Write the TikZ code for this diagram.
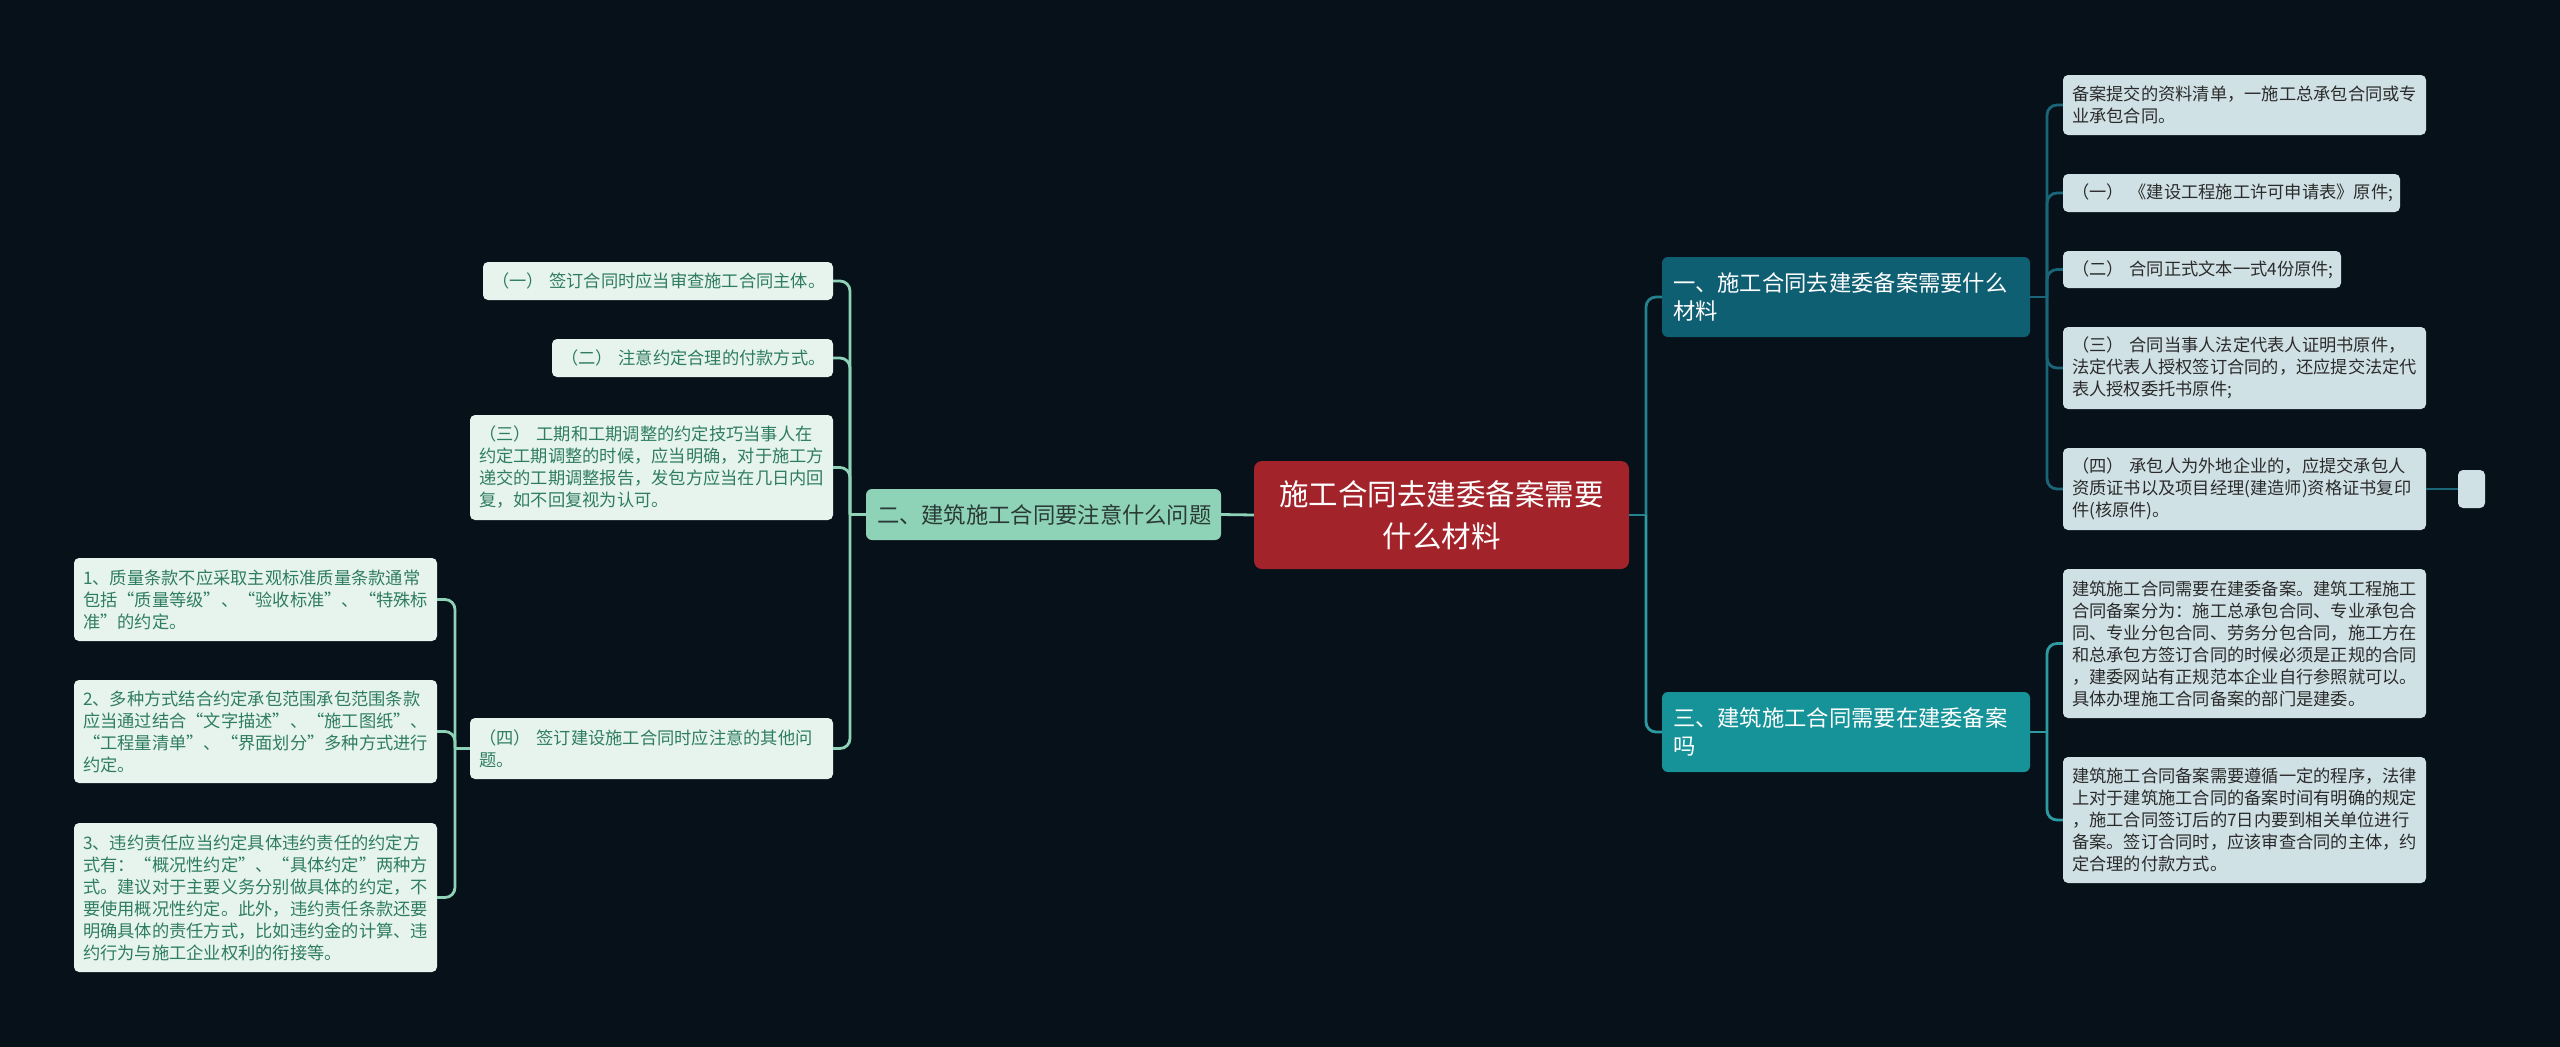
\documentclass[tikz,border=0pt]{standalone}
\usepackage{fontspec}
\setmainfont{Noto Sans CJK SC}
\newcommand\myqo{\makebox[1em][r]{“}}
\newcommand\myqc{\makebox[1em][l]{”}}
\definecolor{bgc}{HTML}{07111A}
\definecolor{rootc}{HTML}{A3232B}
\definecolor{mainA}{HTML}{0F5F73}
\definecolor{mainC}{HTML}{159399}
\definecolor{mainB}{HTML}{8ED3B8}
\definecolor{leafRc}{HTML}{D0E1E5}
\definecolor{leafLc}{HTML}{E7F4EE}
\definecolor{txtR}{HTML}{2B2B2B}
\definecolor{txtL}{HTML}{2F7D60}
\definecolor{txtB}{HTML}{2A3A36}
\definecolor{lnA}{HTML}{1B6579}
\definecolor{lnC}{HTML}{2C9BA2}
\definecolor{lnR}{HTML}{23828E}
\definecolor{lnL}{HTML}{8ED3B8}
\begin{document}
\begin{tikzpicture}[x=1pt,y=-1pt,
  conn/.style={line width=2.8pt},
  rootbox/.style={fill=rootc,text=white,rounded corners=8pt,align=center,
    font=\fontsize{29.5}{42}\selectfont,text width=360pt,minimum height=108pt,inner xsep=7.5pt},
  mainbox/.style={rounded corners=6pt,align=left,font=\fontsize{22.3}{28}\selectfont,inner xsep=11pt},
  leafR/.style={fill=leafRc,text=txtR,rounded corners=5pt,align=left,
    font=\fontsize{17.25}{22}\selectfont,inner xsep=9pt},
  leafL/.style={fill=leafLc,text=txtL,rounded corners=5pt,align=left,
    font=\fontsize{17.25}{22}\selectfont,inner xsep=9pt},
]
\useasboundingbox (0,0) rectangle (2560,1047);
\fill[bgc] (0,0) rectangle (2560,1047);

% central
\node[rootbox] (root) at (1441.5,515) {施工合同去建委备案需要\\什么材料};

% main branches
\node[mainbox,fill=mainA,text=white,text width=346pt,minimum height=80pt] (m1) at (1846,297)
  {一、施工合同去建委备案需要什么\\材料};
\node[mainbox,fill=mainC,text=white,text width=346pt,minimum height=80pt] (m3) at (1846,732)
  {三、建筑施工合同需要在建委备案\\吗};
\node[mainbox,fill=mainB,text=txtB,text width=333pt,minimum height=51pt] (m2) at (1043.5,514.5)
  {二、建筑施工合同要注意什么问题};

% right leaves
\node[leafR,text width=345pt,minimum height=60pt] (ra) at (2244.5,105)
  {备案提交的资料清单，一施工总承包合同或专\\业承包合同。};
\node[leafR,text width=319pt,minimum height=38pt] (rb) at (2231.5,193)
  {（一）~《建设工程施工许可申请表》原件;};
\node[leafR,text width=260pt,minimum height=37pt] (rc) at (2202,269.5)
  {（二）~合同正式文本一式4份原件;};
\node[leafR,text width=345pt,minimum height=82pt] (rd) at (2244.5,368)
  {（三）~合同当事人法定代表人证明书原件，\\法定代表人授权签订合同的，还应提交法定代\\表人授权委托书原件;};
\node[leafR,text width=345pt,minimum height=82pt] (re) at (2244.5,489)
  {（四）~承包人为外地企业的，应提交承包人\\资质证书以及项目经理(建造师)资格证书复印\\件(核原件)。};
\node[fill=leafRc,rounded corners=5pt,minimum width=27pt,minimum height=38pt,inner sep=0pt] (rs) at (2471.5,489) {};
\node[leafR,text width=345pt,minimum height=149pt] (rf) at (2244.5,643.5)
  {建筑施工合同需要在建委备案。建筑工程施工\\合同备案分为：施工总承包合同、专业承包合\\同、专业分包合同、劳务分包合同，施工方在\\和总承包方签订合同的时候必须是正规的合同\\，建委网站有正规范本企业自行参照就可以。\\具体办理施工合同备案的部门是建委。};
\node[leafR,text width=345pt,minimum height=126pt] (rg) at (2244.5,820)
  {建筑施工合同备案需要遵循一定的程序，法律\\上对于建筑施工合同的备案时间有明确的规定\\，施工合同签订后的7日内要到相关单位进行\\备案。签订合同时，应该审查合同的主体，约\\定合理的付款方式。};

% left leaves
\node[leafL,text width=332pt,minimum height=38pt] (l1) at (658,281)
  {（一）~签订合同时应当审查施工合同主体。};
\node[leafL,text width=263pt,minimum height=38pt] (l2) at (692.5,358)
  {（二）~注意约定合理的付款方式。};
\node[leafL,text width=345pt,minimum height=105pt] (l3) at (651.5,467.5)
  {（三）~工期和工期调整的约定技巧当事人在\\约定工期调整的时候，应当明确，对于施工方\\递交的工期调整报告，发包方应当在几日内回\\复，如不回复视为认可。};
\node[leafL,text width=345pt,minimum height=61pt] (l4) at (651.5,748.5)
  {（四）~签订建设施工合同时应注意的其他问\\题。};
\node[leafL,text width=345pt,minimum height=83pt] (n1) at (255.5,599.5)
  {1、质量条款不应采取主观标准质量条款通常\\包括\myqo 质量等级\myqc、\myqo 验收标准\myqc、\myqo 特殊标\\准\myqc 的约定。};
\node[leafL,text width=345pt,minimum height=103pt] (n2) at (255.5,731.5)
  {2、多种方式结合约定承包范围承包范围条款\\应当通过结合\myqo 文字描述\myqc、\myqo 施工图纸\myqc、\\\myqo 工程量清单\myqc、\myqo 界面划分\myqc 多种方式进行\\约定。};
\node[leafL,text width=345pt,minimum height=149pt] (n3) at (255.5,897.5)
  {3、违约责任应当约定具体违约责任的约定方\\式有：\myqo 概况性约定\myqc、\myqo 具体约定\myqc 两种方\\式。建议对于主要义务分别做具体的约定，不\\要使用概况性约定。此外，违约责任条款还要\\明确具体的责任方式，比如违约金的计算、违\\约行为与施工企业权利的衔接等。};

% junctions
\coordinate (jR) at (1646,515);
\coordinate (j1) at (2047,297);
\coordinate (j3) at (2047,732);
\coordinate (jL) at (850,514.5);
\coordinate (jN) at (455,748.5);

% connectors right
\draw[conn,lnR] (root.east) -- (jR);
\draw[conn,lnR,rounded corners=10pt] (jR) |- (m1.west);
\draw[conn,lnC,rounded corners=10pt] (jR) |- (m3.west);
\draw[conn,lnA] (m1.east) -- (j1);
\foreach \t in {ra,rb,rc,rd,re}
  \draw[conn,lnA,rounded corners=10pt] (j1) |- (\t.west);
\draw[conn,lnA] (re.east) -- (rs.west);
\draw[conn,lnC] (m3.east) -- (j3);
\foreach \t in {rf,rg}
  \draw[conn,lnC,rounded corners=10pt] (j3) |- (\t.west);

% connectors left
\draw[conn,lnL] (root.west) -- (m2.east);
\draw[conn,lnL] (m2.west) -- (jL);
\foreach \t in {l1,l2,l3,l4}
  \draw[conn,lnL,rounded corners=10pt] (jL) |- (\t.east);
\draw[conn,lnL] (l4.west) -- (jN);
\foreach \t in {n1,n2,n3}
  \draw[conn,lnL,rounded corners=10pt] (jN) |- (\t.east);
\end{tikzpicture}
\end{document}
